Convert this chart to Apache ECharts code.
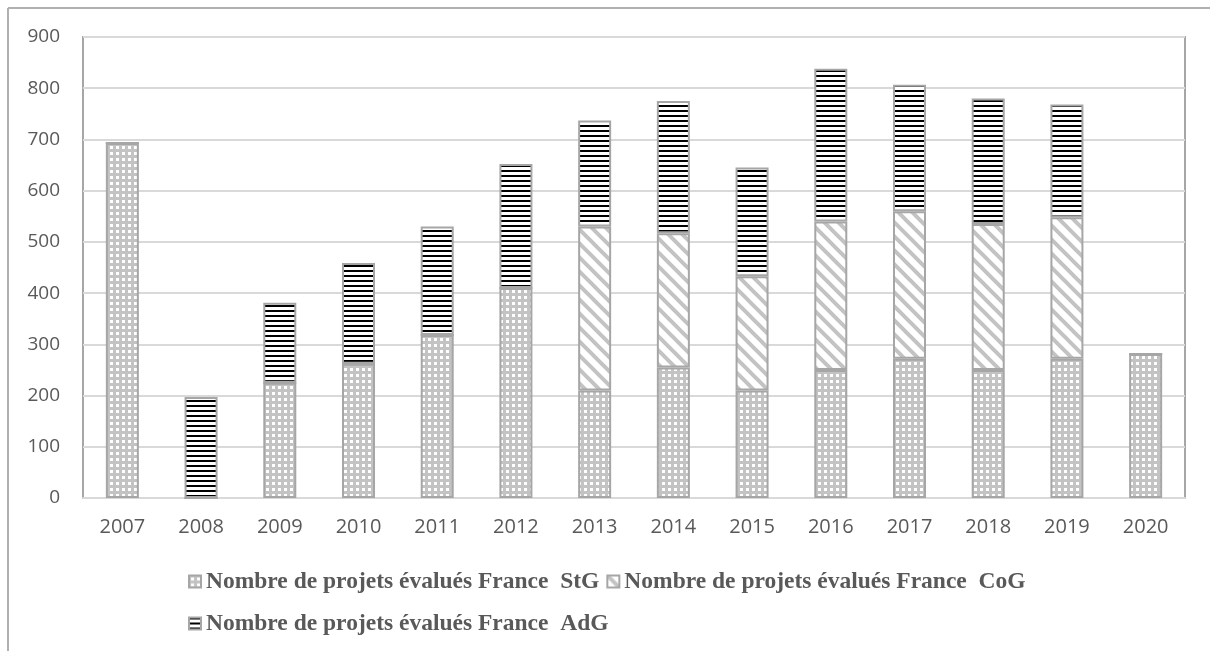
<!DOCTYPE html>
<html>
<head>
<meta charset="utf-8">
<title>Projets évalués France</title>
<script src="https://cdn.jsdelivr.net/npm/echarts@6/dist/echarts.min.js"></script>
<style>
  html, body { margin: 0; padding: 0; background: #fff; }
  #chart { width: 1210px; height: 651px; }
</style>
</head>
<body>
<div id="chart"></div>
<script>
// data
var years = ['2007', '2008', '2009', '2010', '2011', '2012', '2013', '2014', '2015', '2016', '2017', '2018', '2019', '2020'];
var stgValues = [693, 0, 225, 262, 318, 410, 210, 255, 210, 250, 272, 250, 272, 281];
var cogValues = [0, 0, 0, 0, 0, 0, 320, 262, 223, 290, 288, 285, 276, 0];
var adgValues = [0, 197, 156, 197, 212, 242, 207, 258, 212, 298, 247, 245, 220, 0];
var seriesNames = [
  'Nombre de projets évalués France  StG',
  'Nombre de projets évalués France  CoG',
  'Nombre de projets évalués France  AdG'
];

// ---- fill patterns (Excel style) ----
function makeTile(w, h, draw) {
  var c = document.createElement('canvas');
  c.width = w;
  c.height = h;
  draw(c.getContext('2d'));
  return c;
}

var dotTile = makeTile(6, 6, function (ctx) {
  ctx.fillStyle = '#c3c3c3';
  ctx.fillRect(0, 0, 6, 6);
  ctx.fillStyle = '#ffffff';
  ctx.fillRect(2, 2, 3, 3);
});

var hatchTile = makeTile(14, 14, function (ctx) {
  ctx.fillStyle = '#ffffff';
  ctx.fillRect(0, 0, 14, 14);
  ctx.strokeStyle = '#c3c3c3';
  ctx.lineWidth = 4;
  ctx.beginPath();
  ctx.moveTo(-7, -7); ctx.lineTo(21, 21);
  ctx.moveTo(-7, 7); ctx.lineTo(7, 21);
  ctx.moveTo(7, -7); ctx.lineTo(21, 7);
  ctx.stroke();
});

var stripeTile = makeTile(10, 5, function (ctx) {
  ctx.fillStyle = '#ffffff';
  ctx.fillRect(0, 0, 10, 5);
  ctx.fillStyle = '#000000';
  ctx.fillRect(0, 0, 10, 2);
});

var barBorder = '#a6a6a6';

function barSeries(name, values, tile) {
  return {
    name: name,
    type: 'bar',
    stack: 'total',
    barWidth: 33,
    data: values,
    itemStyle: {
      color: { image: tile, repeat: 'repeat' },
      borderColor: barBorder,
      borderWidth: 2
    },
    emphasis: { disabled: true }
  };
}

var dom = document.getElementById('chart');
var myChart = echarts.init(dom, null, { renderer: 'canvas' });

var option = {
  animation: false,
  grid: {
    left: 83,
    right: 25,
    top: 37,
    bottom: 153,
    show: true,
    borderColor: '#a6a6a6',
    borderWidth: 2
  },
  graphic: [
    { type: 'line', shape: { x1: 8, y1: 8, x2: 1210, y2: 8 }, style: { stroke: '#b0b0b0', lineWidth: 2 } },
    { type: 'line', shape: { x1: 8, y1: 8, x2: 8, y2: 651 }, style: { stroke: '#b0b0b0', lineWidth: 2 } }
  ],
  xAxis: {
    type: 'category',
    data: years,
    axisLine: { lineStyle: { color: '#d9d9d9', width: 2 } },
    axisTick: { show: false },
    axisLabel: {
      margin: 19,
      color: '#595959',
      fontFamily: 'Open Sans',
      fontSize: 20
    }
  },
  yAxis: {
    type: 'value',
    min: 0,
    max: 900,
    interval: 100,
    axisLine: { show: false },
    axisTick: { show: false },
    splitLine: { lineStyle: { color: '#d9d9d9', width: 2 } },
    axisLabel: {
      margin: 23,
      color: '#595959',
      fontFamily: 'Open Sans',
      fontSize: 19
    }
  },
  legend: {
    left: 183,
    top: 559,
    width: 900,
    itemGap: 7,
    itemWidth: 12,
    itemHeight: 12,
    icon: 'rect',
    selectedMode: false,
    textStyle: {
      color: '#595959',
      fontFamily: 'Liberation Serif',
      fontWeight: 'bold',
      fontSize: 23.5,
      lineHeight: 35
    },
    data: seriesNames
  },
  series: [
    barSeries(seriesNames[0], stgValues, dotTile),
    barSeries(seriesNames[1], cogValues, hatchTile),
    barSeries(seriesNames[2], adgValues, stripeTile)
  ]
};

myChart.setOption(option);
</script>
</body>
</html>
